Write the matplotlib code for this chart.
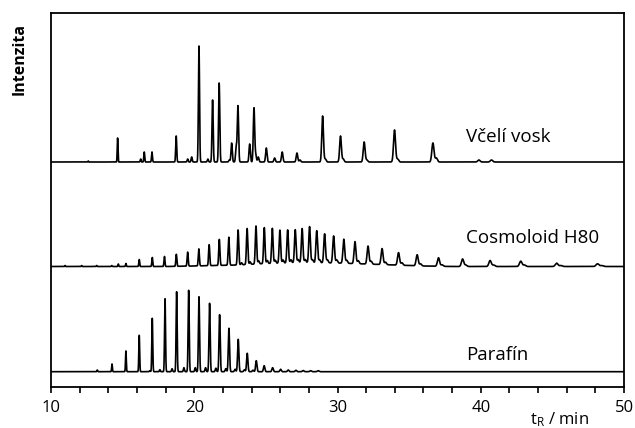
import numpy as np
import matplotlib
matplotlib.use("Agg")
import matplotlib.pyplot as plt
from matplotlib.ticker import MultipleLocator

plt.rcParams['font.family'] = ['Open Sans', 'DejaVu Sans']

# retention times (min) and peak heights (px-like intensity units)
wax_t = [12.6, 14.65, 16.26, 16.51, 17.05, 18.74, 19.54, 19.82, 20.33, 20.95, 21.28, 21.74,
         22.45, 22.61, 22.93, 23.05, 23.87, 24.17, 24.29, 24.47, 25.03, 25.61, 26.14, 27.17,
         27.38, 28.96, 29.15, 30.21, 30.40, 31.86, 32.05, 33.98, 34.20, 36.66, 36.90, 39.87, 40.75]
wax_h = [1, 24, 3, 10, 10, 26, 3, 5, 116, 3, 62, 79,
         2, 19, 15, 56, 18, 54, 7, 5, 14, 4, 10, 9,
         2, 46, 3, 26, 3, 20, 2, 32, 3, 19, 4, 2, 2]

cosmo_t = [10.98, 12.14, 13.19, 14.24, 14.70, 15.23, 16.16, 17.07, 17.92, 18.75, 19.54, 20.32,
           21.04, 21.75, 22.41, 23.06, 23.69, 24.31, 24.89, 25.45, 25.98, 26.52, 27.05, 27.53,
           28.05, 28.55, 29.10, 29.73, 30.44, 31.22, 32.13, 33.11, 34.26, 35.56, 37.05, 38.73,
           40.65, 42.79, 45.30, 48.15]
cosmo_h = [1, 1, 1, 1, 2.5, 3, 7, 9, 10, 12, 14, 17,
           21, 26, 28, 35, 36, 38, 36, 35, 33, 33, 33, 34,
           36, 32, 29, 27, 24, 22, 18, 16, 12.5, 11, 8.5, 7.5,
           6, 5.3, 3.3, 2.7]
cosmo_minor_t = [23.3, 23.9, 24.5, 25.1, 25.65, 26.2, 26.75, 27.25, 27.75, 28.25, 28.75, 29.3,
                 29.95, 30.65, 31.45, 32.35, 33.35, 34.5, 35.8, 37.3, 38.95, 40.9, 43.05, 45.6, 48.45]
cosmo_minor_h = [2, 2.5, 3, 3, 3, 3, 3, 3, 3, 3, 3, 3,
                 3, 3, 3, 3, 2.5, 2.5, 2, 1.5, 1.5, 1.5, 1.5, 1, 1]
# unresolved hump under the Cosmoloid trace
hump_t = [10, 18, 20, 23, 25, 27.5, 30, 32, 34, 36, 38, 50]
hump_h = [0, 0, 0.5, 1.5, 3, 4, 3.5, 2.5, 1.5, 0.5, 0, 0]

par_t = [13.23, 14.26, 15.23, 16.16, 17.07, 17.96, 18.77, 19.61, 20.33, 21.07, 21.77, 22.42,
         23.07, 23.70, 24.33, 24.88, 25.47, 26.03, 26.56, 27.10, 27.60, 28.12, 28.65]
par_h = [1.7, 7.7, 20.7, 36.4, 53.4, 73, 80, 81.4, 75, 68.4, 57, 43.4,
         32.4, 18.4, 11, 6, 4, 2.4, 1.7, 1.4, 1.2, 1, 1]
par_minor_t = [16.9, 17.6, 18.45, 19.28, 20.07, 20.79, 21.51, 22.2, 22.85, 23.5, 24.1]
par_minor_h = [1, 2, 3, 4, 4, 4, 3.5, 3, 2.5, 2, 1.5]

labels = ["Včelí vosk", "Cosmoloid H80", "Parafín"]
offsets = [225.3, 120.8, 15.6]
label_y = [250, 149, 32]


def trace(t, peaks_t, peaks_h):
    y = np.zeros_like(t)
    for pt, ph in zip(peaks_t, peaks_h):
        s = 0.016 + 0.0022 * (pt - 10)
        y += ph * np.exp(-0.5 * ((t - pt) / s) ** 2)
    return y


t = np.arange(10, 50.001, 0.003)
y_wax = trace(t, wax_t, wax_h)
y_cosmo = (trace(t, cosmo_t, cosmo_h) + trace(t, cosmo_minor_t, cosmo_minor_h)
           + np.interp(t, hump_t, hump_h))
y_par = trace(t, par_t, par_h) + trace(t, par_minor_t, par_minor_h)

fig = plt.figure(figsize=(6.35, 4.28), dpi=100)
ax = fig.add_axes([0.0803, 0.0951, 0.9024, 0.8752])

for y, off, lab, ly in zip([y_wax, y_cosmo, y_par], offsets, labels, label_y):
    ax.plot(t, y + off, color="black", lw=1.2)
    ax.text(38.96, ly, lab, fontsize=13.5, ha="left", va="center")

ax.set_xlim(10, 50)
ax.set_ylim(0, 374.6)
ax.xaxis.set_major_locator(MultipleLocator(10))
ax.xaxis.set_minor_locator(MultipleLocator(2))
ax.tick_params(axis="x", which="both", direction="out", length=4, width=1.2,
               labelsize=12, pad=5)
ax.set_yticks([])
for sp in ax.spines.values():
    sp.set_linewidth(1.3)

fig.text(20 / 635, 1 - 59 / 428, "Intenzita", rotation=90, fontsize=11.5,
         fontweight="bold", ha="center", va="center")
fig.text(559 / 635, 1 - 410 / 428, r"$\mathregular{t_R}$ / min", fontsize=12,
         ha="center", va="top")

fig.savefig("out.png", dpi=100)
